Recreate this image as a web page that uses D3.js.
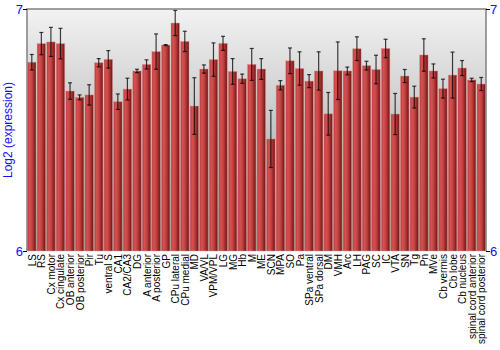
<!DOCTYPE html>
<html><head><meta charset="utf-8">
<script src="https://cdn.jsdelivr.net/npm/d3@7"></script>
<style>body{margin:0;background:#fff}svg{display:block}</style>
</head><body>
<svg id="c" width="500" height="350"></svg>
<script>
const categories = ["LS","RS","Cx motor","Cx cingulate","OB anterior","OB posterior","Pir","Tu","ventral S","CA1","CA2/CA3","DG","A anterior","A posterior","GP","CPu lateral","CPu medial","MD","VA/VL","VPM/VPL","LG","MG","Hb","M","ME","SCN","MPA","SO","Pa","SPa ventral","SPa dorsal","DM","VMH","Arc","LH","PAG","SC","IC","VTA","SN","Tg","Pn","MVe","Cb vermis","Cb lobe","Cb nucleus","spinal cord anterior","spinal cord posterior"];
const values = [6.78,6.857,6.864,6.857,6.661,6.635,6.645,6.778,6.792,6.617,6.669,6.744,6.771,6.824,6.851,6.942,6.866,6.599,6.752,6.791,6.858,6.742,6.712,6.771,6.752,6.463,6.685,6.786,6.754,6.702,6.744,6.567,6.745,6.744,6.836,6.766,6.75,6.837,6.566,6.723,6.636,6.81,6.744,6.671,6.727,6.756,6.707,6.69];
const errors = [0.032,0.046,0.06,0.063,0.034,0.01,0.042,0.017,0.036,0.032,0.045,0.007,0.019,0.073,0.002,0.052,0.042,0.117,0.017,0.069,0.029,0.053,0.019,0.066,0.043,0.118,0.019,0.053,0.069,0.027,0.079,0.088,0.119,0.016,0.049,0.018,0.059,0.038,0.085,0.027,0.045,0.067,0.029,0.039,0.095,0.031,0.007,0.027];
const yTicks = [6,7];
const yTitle = "Log2 (expression)";

const svg = d3.select("#c");
const L=27, R=486, T=9, B=251;
const x = d3.scaleBand().domain(categories).range([L,R]).paddingInner(0.12).paddingOuter(0.06);
const y = d3.scaleLinear().domain([6,7]).range([B,T]);

const defs = svg.append("defs");
const bg = defs.append("linearGradient").attr("id","bg").attr("x1",0).attr("y1",0).attr("x2",0).attr("y2",1);
bg.append("stop").attr("offset","0%").attr("stop-color","#f2f2f2");
bg.append("stop").attr("offset","100%").attr("stop-color","#979797");
const bar = defs.append("linearGradient").attr("id","bar").attr("x1",0).attr("y1",0).attr("x2",1).attr("y2",0);
bar.append("stop").attr("offset","0%").attr("stop-color","#b83838");
bar.append("stop").attr("offset","25%").attr("stop-color","#d65252");
bar.append("stop").attr("offset","55%").attr("stop-color","#c04040");
bar.append("stop").attr("offset","100%").attr("stop-color","#6e1212");

svg.append("rect").attr("x",L).attr("y",T).attr("width",R-L).attr("height",B-T).attr("fill","url(#bg)");

svg.append("g").selectAll("rect").data(values).join("rect")
  .attr("x",(d,i)=>x(categories[i]))
  .attr("y",d=>y(d))
  .attr("width",x.bandwidth())
  .attr("height",d=>B-y(d))
  .attr("fill","url(#bar)")
  .attr("stroke","rgba(230,150,150,0.5)").attr("stroke-width",0.8);

const eg = svg.append("g").attr("stroke","#000").attr("stroke-opacity",0.75).attr("stroke-width",1.2);
values.forEach((v,i)=>{
  const cx = x(categories[i]) + x.bandwidth()/2;
  const y1 = y(v+errors[i]), y2 = y(v-errors[i]);
  eg.append("line").attr("x1",cx).attr("x2",cx).attr("y1",y1).attr("y2",y2);
  eg.append("line").attr("x1",cx-2).attr("x2",cx+2).attr("y1",y1).attr("y2",y1);
  eg.append("line").attr("x1",cx-2).attr("x2",cx+2).attr("y1",y2).attr("y2",y2);
});

// frame
svg.append("path").attr("d",`M${L},${B}V${T}H${R}V${B}`).attr("fill","none").attr("stroke","#808080").attr("stroke-width",1.5);

// axes
const yl = svg.append("g").attr("transform",`translate(${L},0)`).call(d3.axisLeft(y).tickValues(yTicks).tickSize(4).tickFormat(d3.format("d")));
const yr = svg.append("g").attr("transform",`translate(${R},0)`).call(d3.axisRight(y).tickValues(yTicks).tickSize(4).tickFormat(d3.format("d")));
[yl,yr].forEach(g=>{
  g.select(".domain").remove();
  g.selectAll("line").attr("stroke","#000");
  g.selectAll("text").attr("fill","#1010ff").attr("font-family","Liberation Sans, Arial, sans-serif").attr("font-size",13);
});
yl.selectAll("text").attr("x",-4);
yr.selectAll("text").attr("x",4);

svg.append("text").attr("transform",`translate(12,${(T+B)/2}) rotate(-90)`)
  .attr("text-anchor","middle").attr("fill","#1010ff")
  .attr("font-family","Liberation Sans, Arial, sans-serif").attr("font-size",12).text(yTitle);

svg.append("g").selectAll("text").data(categories).join("text")
  .attr("transform",d=>`translate(${x(d)+x.bandwidth()/2+4},${B+3}) rotate(-90)`)
  .attr("text-anchor","end")
  .attr("font-family","Liberation Sans, Arial, sans-serif").attr("font-size",10).attr("fill","#000")
  .text(d=>d);
</script>
</body></html>
